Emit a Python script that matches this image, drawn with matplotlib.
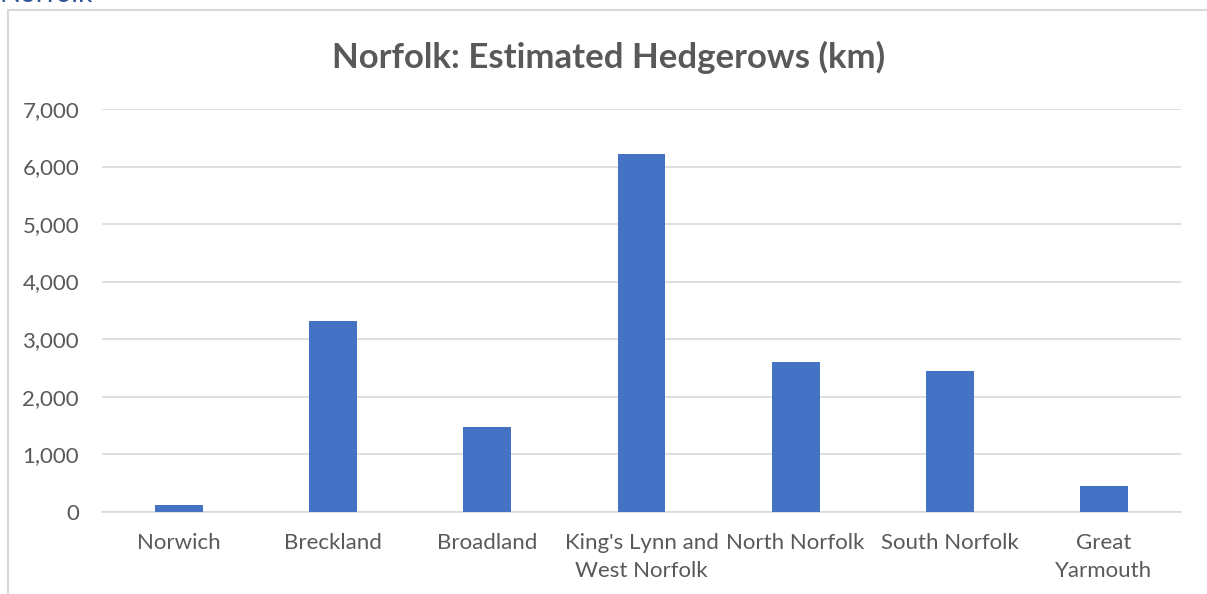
import matplotlib.pyplot as plt
from matplotlib.patches import Rectangle
from matplotlib.ticker import FuncFormatter

districts = ['Norwich', 'Breckland', 'Broadland', "King's Lynn and\nWest Norfolk",
             'North Norfolk', 'South Norfolk', 'Great\nYarmouth']
hedgerows_km = [110, 3315, 1478, 6215, 2598, 2442, 447]
yticks = [0, 1000, 2000, 3000, 4000, 5000, 6000, 7000]

plt.rcParams['font.family'] = ['Lato', 'DejaVu Sans']
grey = '#595959'

fig = plt.figure(figsize=(12.07, 5.94), dpi=100)

# outer chart frame (cut off at right and bottom)
fig.patches.append(Rectangle((8/1207, -0.05), 1.2, 1 - 10/594 + 0.05,
                             transform=fig.transFigure, fill=False,
                             edgecolor='#D9D9D9', linewidth=1.5))
fig.text(0.0, 1 - 2/594, 'Norfolk', color='#2F5496', fontsize=20,
         ha='left', va='baseline')

ax = fig.add_axes([102/1207, 1 - 511.7/594, (1181 - 102)/1207, (511.7 - 109)/594])
x = range(len(districts))
ax.bar(x, hedgerows_km, width=0.31, color='#4472C4', zorder=3)

ax.set_xlim(-0.5, len(districts) - 0.5)
ax.set_ylim(0, 7000)
ax.set_yticks(yticks)
ax.yaxis.set_major_formatter(FuncFormatter(lambda v, p: f'{int(v):,}'))
ax.set_xticks(list(x))
ax.set_xticklabels(districts, linespacing=1.55)
ax.grid(axis='y', color='#D9D9D9', linewidth=1.2, zorder=0)

for s in ['top', 'right', 'left']:
    ax.spines[s].set_visible(False)
ax.spines['bottom'].set_color('#D9D9D9')
ax.spines['bottom'].set_linewidth(1.2)
ax.tick_params(axis='both', length=0, colors=grey, labelsize=16)
ax.tick_params(axis='y', pad=16.5)
ax.tick_params(axis='x', pad=15)

fig.text(609/1207, 1 - 57/594, 'Norfolk: Estimated Hedgerows (km)', color=grey,
         fontsize=25, fontweight='bold', ha='center', va='center')

fig.savefig('out.png', dpi=100)
